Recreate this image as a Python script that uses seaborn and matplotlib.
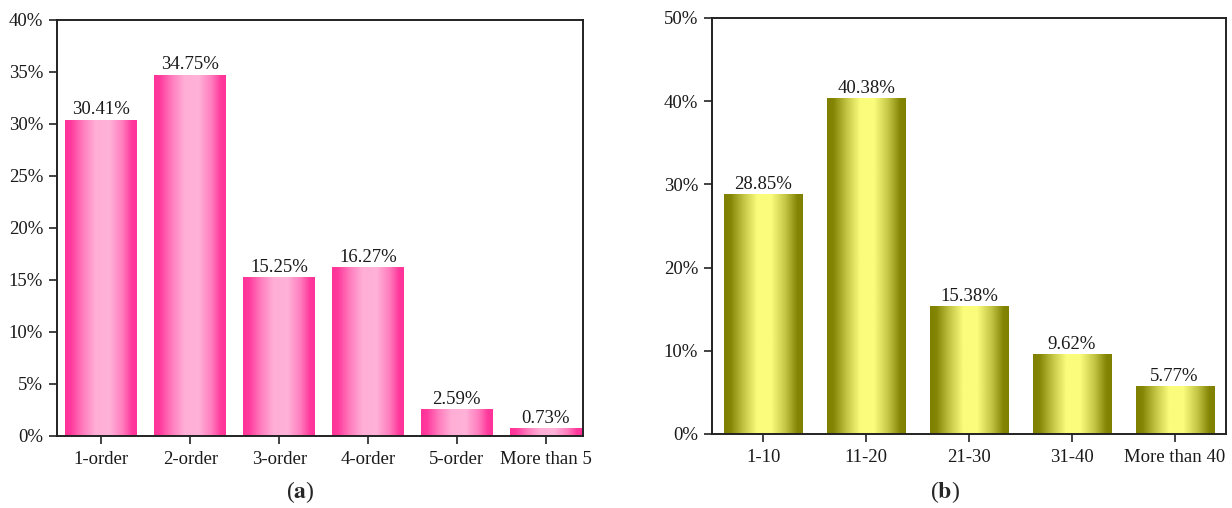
import numpy as np
import pandas as pd
import matplotlib
matplotlib.use("Agg")
import matplotlib.pyplot as plt
import seaborn as sns
from matplotlib.colors import LinearSegmentedColormap
from matplotlib.ticker import FuncFormatter, MultipleLocator

# ---- data ----
cats_a = ["1-order", "2-order", "3-order", "4-order", "5-order", "More than 5"]
vals_a = [30.41, 34.75, 15.25, 16.27, 2.59, 0.73]
cats_b = ["1-10", "11-20", "21-30", "31-40", "More than 40"]
vals_b = [28.85, 40.38, 15.38, 9.62, 5.77]
caption_a = "a"
caption_b = "b"

sns.set_theme(style="white")
plt.rcParams["font.family"] = ["Liberation Serif", "DejaVu Serif"]
plt.rcParams["mathtext.fontset"] = "stix"

FS = 13.5

fig = plt.figure(figsize=(12.32, 5.08), dpi=100)
ax1 = fig.add_axes([57/1232, 1-436/508, (583-57)/1232, (436-20)/508])
ax2 = fig.add_axes([712/1232, 1-434/508, (1226-712)/1232, (434-18)/508])

pink = LinearSegmentedColormap.from_list(
    "pink", [(0.0, "#ff3399"), (0.08, "#ff3a9d"), (0.25, "#ff7dbe"),
             (0.42, "#ffaed6"), (0.62, "#ffb2d8"), (0.8, "#ff7dbe"),
             (0.93, "#ff3a9d"), (1.0, "#ff3399")])
olive = LinearSegmentedColormap.from_list(
    "olive", [(0.0, "#7f7f00"), (0.08, "#858505"), (0.25, "#c4c445"),
              (0.42, "#fcfc7c"), (0.6, "#fcfc7c"), (0.78, "#c4c445"),
              (0.93, "#858505"), (1.0, "#7f7f00")])


def panel(ax, cats, vals, width, cmap, ymax, ystep, xlim):
    df = pd.DataFrame({"cat": cats, "val": vals})
    sns.barplot(data=df, x="cat", y="val", ax=ax, width=width,
                color="#ff3399", saturation=1, edgecolor="none")
    grad = np.linspace(0, 1, 256).reshape(1, -1)
    for p, v in zip(ax.patches, vals):
        x0, y0 = p.get_x(), p.get_y()
        w, h = p.get_width(), p.get_height()
        p.set_facecolor("none")
        im = ax.imshow(grad, cmap=cmap, aspect="auto",
                       extent=[x0, x0 + w, y0, y0 + h], zorder=2,
                       interpolation="bilinear")
        im.set_clip_path(p)
        ax.text(x0 + w / 2, y0 + h + ymax * 0.003, f"{v:.2f}%",
                ha="center", va="bottom", fontsize=FS, color="#1a1a1a")
    ax.set_xlim(*xlim)
    ax.set_ylim(0, ymax)
    ax.yaxis.set_major_locator(MultipleLocator(ystep))
    ax.yaxis.set_major_formatter(FuncFormatter(lambda y, _: f"{y:.0f}%"))
    ax.set_xlabel("")
    ax.set_ylabel("")
    for s in ax.spines.values():
        s.set_visible(True)
        s.set_color("#222222")
        s.set_linewidth(1.4)
    ax.tick_params(axis="both", which="major", direction="out", length=6,
                   width=1.2, color="#222222", labelsize=FS,
                   labelcolor="#1a1a1a", pad=4)
    ax.tick_params(axis="x", pad=5)
    ax.tick_params(top=False, right=False, left=True, bottom=True)


panel(ax1, cats_a, vals_a, 0.81, pink, 40, 5, (-0.5, 5.42))
panel(ax2, cats_b, vals_b, 0.76, olive, 50, 10, (-0.5, 4.5))

fig.text(300/1232, 1-492/508, f"($\\mathbf{{{caption_a}}}$)", ha="center",
         va="center", fontsize=17)
fig.text(945/1232, 1-492/508, f"($\\mathbf{{{caption_b}}}$)", ha="center",
         va="center", fontsize=17)

fig.savefig("out.png", dpi=100)
